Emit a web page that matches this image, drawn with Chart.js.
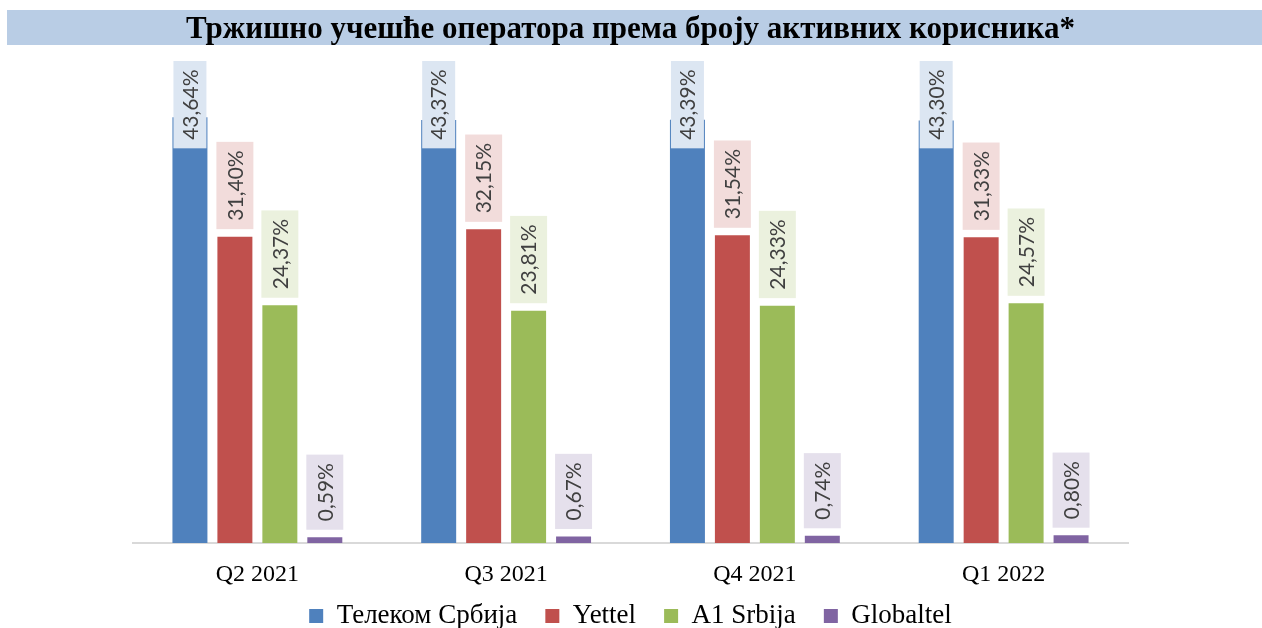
<!DOCTYPE html>
<html>
<head>
<meta charset="utf-8">
<script src="https://cdn.jsdelivr.net/npm/chart.js@4.4.1/dist/chart.umd.min.js"></script>
<style>
    html, body { margin: 0; padding: 0; background: #fff; }
    #chart-container { width: 1262px; height: 628px; }
</style>
</head>
<body>
<div id="chart-container"><canvas id="market-chart"></canvas></div>
<script>
const TITLE = "Тржишно учешће оператора према броју активних корисника*";
const QUARTERS = ["Q2 2021", "Q3 2021", "Q4 2021", "Q1 2022"];
const OPERATORS = ["Телеком Србија", "Yettel", "A1 Srbija", "Globaltel"];
const TELEKOM = [43.64, 43.37, 43.39, 43.30];
const YETTEL = [31.40, 32.15, 31.54, 31.33];
const A1 = [24.37, 23.81, 24.33, 24.57];
const GLOBALTEL = [0.59, 0.67, 0.74, 0.80];

const BARCOLORS = ["#4f81bd", "#c0504d", "#9bbb59", "#8064a2"];
const LABELBG = ["#dce6f2", "#f2dcdb", "#ebf1de", "#e5e0ec"];
const SERIF = "'Liberation Serif', serif";
const LABELFONT = "21px Lato, sans-serif";
const LABELTOP = 61;

// light blue band behind the title
const titleBand = {
    id: "titleBand",
    beforeDraw(chart) {
        const ctx = chart.ctx;
        ctx.save();
        ctx.fillStyle = "#b9cde5";
        ctx.fillRect(7, 10, chart.width - 7, 35);
        ctx.restore();
    }
};

// category names under the axis (scale labels would be clipped by the legend overlap)
const categoryLabels = {
    id: "categoryLabels",
    afterDraw(chart) {
        const ctx = chart.ctx;
        const xScale = chart.scales.x;
        ctx.save();
        ctx.font = "24px " + SERIF;
        ctx.fillStyle = "#000";
        ctx.textAlign = "center";
        ctx.textBaseline = "middle";
        chart.data.labels.forEach((label, i) => {
            ctx.fillText(label, xScale.getPixelForValue(i), chart.chartArea.bottom + 32);
        });
        ctx.restore();
    }
};

// rotated value labels with coloured boxes, like the excel original
const valueLabels = {
    id: "valueLabels",
    afterDatasetsDraw(chart) {
        const ctx = chart.ctx;
        ctx.save();
        ctx.font = LABELFONT;
        chart.data.datasets.forEach((ds, i) => {
            chart.getDatasetMeta(i).data.forEach((bar, j) => {
                const text = ds.data[j].toFixed(2).replace(".", ",") + "%";
                const h = ctx.measureText(text).width + 17;
                let bottom = bar.y - 7.5;
                let top = bottom - h;
                let w = bar.width + 2;
                if (top < LABELTOP) {
                    top = LABELTOP;
                    bottom = top + h;
                    w = bar.width - 2;
                }
                ctx.fillStyle = LABELBG[i];
                ctx.fillRect(bar.x - w / 2, top, w, h);
                ctx.save();
                ctx.translate(bar.x, (top + bottom) / 2);
                ctx.rotate(-Math.PI / 2);
                ctx.fillStyle = "#404040";
                ctx.textAlign = "center";
                ctx.textBaseline = "middle";
                ctx.fillText(text, 0, 1);
                ctx.restore();
            });
        });
        ctx.restore();
    }
};

const series = [TELEKOM, YETTEL, A1, GLOBALTEL];
const datasets = series.map((values, i) => ({
    label: OPERATORS[i],
    data: values,
    backgroundColor: BARCOLORS[i],
    borderWidth: 0,
    categoryPercentage: 0.723,
    barPercentage: 0.778
}));

const ctx = document.querySelector("#market-chart").getContext("2d");
new Chart(ctx, {
    type: "bar",
    data: {
        labels: QUARTERS,
        datasets: datasets
    },
    options: {
        responsive: true,
        maintainAspectRatio: false,
        animation: false,
        layout: {
            padding: { left: 133, right: 134, bottom: -11.5 }
        },
        scales: {
            x: {
                grid: { display: false, drawTicks: false },
                border: { display: true, color: "#d9d9d9", width: 2 },
                ticks: { display: false },
                afterFit(scale) {
                    scale.height = 31.5;
                }
            },
            y: {
                display: false,
                min: 0,
                max: 50
            }
        },
        plugins: {
            title: {
                display: true,
                text: TITLE,
                color: "#000",
                font: { family: SERIF, size: 31, weight: "bold" },
                padding: { top: 11, bottom: 7 }
            },
            legend: {
                position: "bottom",
                labels: {
                    color: "#000",
                    boxWidth: 14,
                    boxHeight: 14,
                    padding: 28,
                    font: { family: SERIF, size: 27 }
                }
            },
            tooltip: { enabled: false }
        }
    },
    plugins: [titleBand, valueLabels, categoryLabels]
});
</script>
</body>
</html>
